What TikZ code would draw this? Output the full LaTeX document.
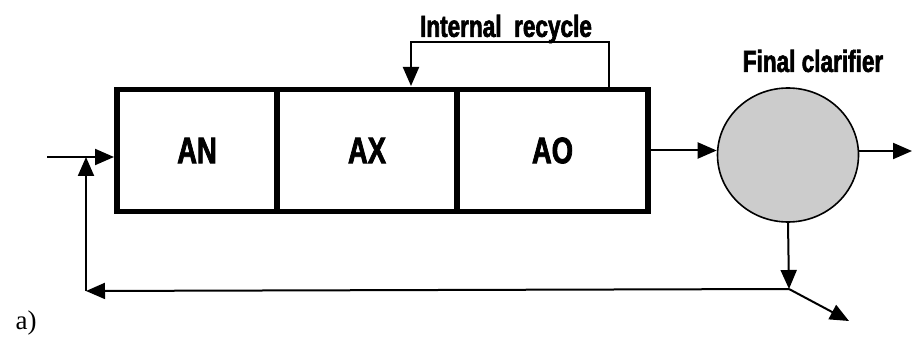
\documentclass[tikz,border=0pt]{standalone}
\usepackage{fontspec}
\setmainfont{Liberation Sans}
\newfontfamily\labfont{Liberation Sans}[FakeStretch=0.74, FakeBold=2]
\newfontfamily\serfont{Liberation Serif}
\usetikzlibrary{arrows.meta,shapes.geometric}
\definecolor{clarfill}{gray}{0.80}
\tikzset{
  zone/.style={draw, line width=5.5pt, minimum height=122pt, inner sep=0pt, outer sep=0pt,
               font=\labfont\bfseries\fontsize{37}{37}\selectfont},
  flow/.style={line width=2pt, -{Triangle[length=19pt,width=16pt]}},
  lbl/.style={font=\labfont\bfseries\fontsize{30.5}{30.5}\selectfont, inner sep=0pt}
}
\begin{document}
\begin{tikzpicture}[x=1pt,y=-1pt]
  \useasboundingbox (0,0) rectangle (912,339);
  % reactor zones
  \node[zone, minimum width=160pt] (an) at (197,150.5) {AN};
  \node[zone, minimum width=180pt] (ax) at (367,150.5) {AX};
  \node[zone, minimum width=191pt] (ao) at (552.5,150.5) {AO};
  % final clarifier
  \node[ellipse, draw, line width=1.6pt, fill=clarfill, minimum width=141pt,
        minimum height=134pt, inner sep=0pt] (clar) at (788,155) {};
  \node[lbl] (cl) at (813,61) {Final clarifier};
  \node[lbl] (ir) at (506,29) {Internal\ \ recycle};
  \node[font=\serfont\fontsize{27}{27}\selectfont, inner sep=0pt] (lab) at (26,323) {a)};
  % helper points
  \coordinate (in) at (47,157);
  \coordinate (inend) at (114,157);
  \coordinate (out) at (912,151);
  \coordinate (junc) at (789,289);
  \coordinate (waste) at (849,321);
  \coordinate (corner) at (86,291);
  \coordinate (rup) at (609,88);
  \coordinate (rtop) at (609,42);
  \coordinate (rdn) at (411,86);
  % influent
  \draw[flow] (in) -- (inend);
  % effluent of reactor to clarifier
  \draw[flow] (ao.east) -- (ao.east -| clar.west);
  % clarifier effluent
  \draw[flow] (clar.east |- out) -- (out);
  % underflow
  \draw[flow] (clar.south) -- (junc);
  \draw[flow] (junc) -- (waste);
  % return sludge
  \draw[flow] (junc) -- (corner);
  \draw[flow] (corner) -- (corner |- in);
  % internal recycle
  \draw[flow] (rup) -- (rtop) -| (rdn);
\end{tikzpicture}
\end{document}
